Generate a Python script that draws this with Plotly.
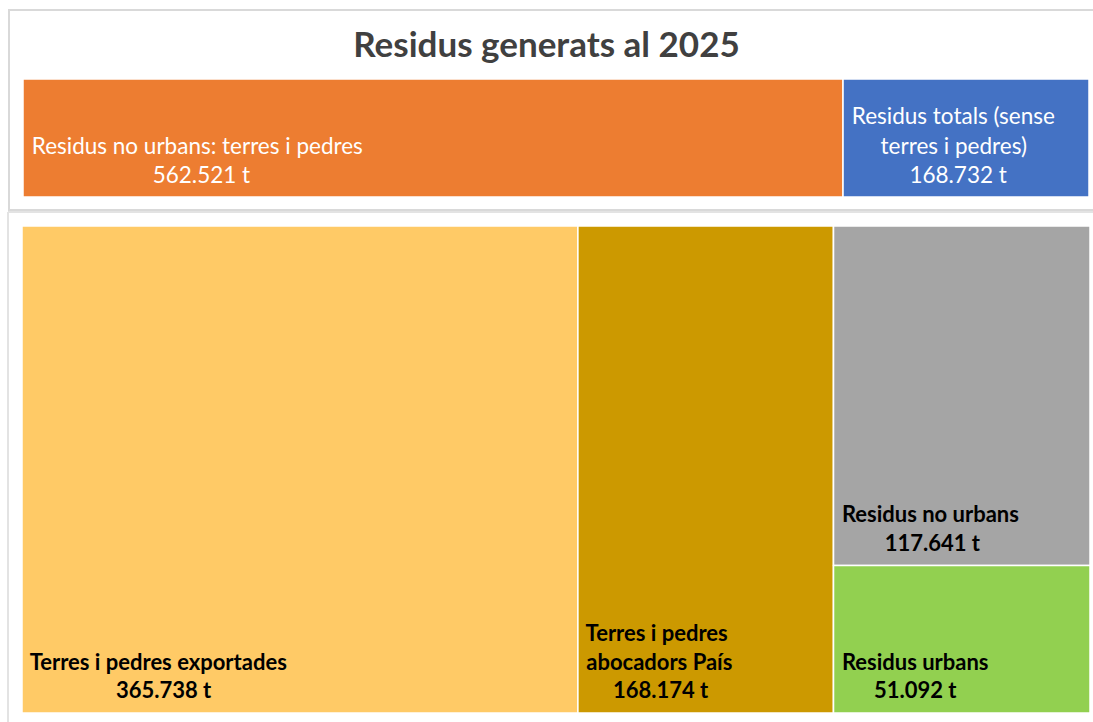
import plotly.graph_objects as go

W, H = 1093, 722

# ---- data ----
top_labels = ["Residus no urbans: terres i pedres", "Residus totals (sense terres i pedres)"]
top_values = [562521, 168732]
top_colors = ["#ED7D31", "#4472C4"]

bottom_ids = ["exp", "abo", "grp", "nou", "urb"]
bottom_labels = ["Terres i pedres exportades", "Terres i pedres abocadors País", "",
                 "Residus no urbans", "Residus urbans"]
bottom_parents = ["", "", "", "grp", "grp"]
bottom_values = [365738, 168174, 0, 117641, 51092]
bottom_colors = ["#FFCA66", "#CC9900", "rgba(0,0,0,0)", "#A5A5A5", "#92D050"]

title_text = "Residus generats al 2025"

NB = "\u00a0"


def fmt(v):
    return f"{v:,}".replace(",", ".") + " t"


def px_x(p):
    return p / W


def px_y(p):
    return 1 - p / H


def stack(lines, big, steps, lead=0, trail=0):
    """Multi-line label; small base font with blank spacer lines sets line pitch."""
    parts = [NB] * lead
    for j, ln in enumerate(lines):
        if j > 0:
            parts += [NB] * (steps - 1)
        parts.append(f"<span style='font-size:{big}px'>{ln}</span>")
    parts += [NB] * trail
    return "<br>".join(parts)


TOP_BIG, TOP_BASE = 22.5, 7.54
BOT_BIG, BOT_BASE = 22, 7.33

top_text = [
    stack([NB, NB + top_labels[0], NB * 22 + fmt(top_values[0])], TOP_BIG, 3, lead=3),
    stack([NB + "Residus totals (sense", NB * 6 + "terres i pedres)",
           NB * 11 + fmt(top_values[1])], TOP_BIG, 3, lead=3),
]
bottom_text = [
    stack([NB + bottom_labels[0], NB * 17 + fmt(bottom_values[0])], BOT_BIG, 3, trail=1),
    stack([NB + "Terres i pedres", NB + "abocadors País", NB * 6 + fmt(bottom_values[1])],
          BOT_BIG, 3, trail=1),
    "",
    stack([NB + bottom_labels[3], NB * 9 + fmt(bottom_values[3])], BOT_BIG, 3, trail=1),
    stack([NB + bottom_labels[4], NB * 7 + fmt(bottom_values[4])], BOT_BIG, 3, trail=1),
]

fig = go.Figure()

fig.add_trace(go.Treemap(
    ids=["t0", "t1"],
    labels=top_labels,
    parents=["", ""],
    values=top_values,
    text=top_text,
    texttemplate="%{text}",
    textposition="middle left",
    sort=False,
    tiling=dict(packing="slice-dice", pad=0),
    marker=dict(colors=top_colors, line=dict(color="white", width=1.5),
                pad=dict(t=0, l=0, r=0, b=0)),
    textfont=dict(family="Lato", size=TOP_BASE, color="white"),
    pathbar=dict(visible=False),
    hoverinfo="skip",
    domain=dict(x=[px_x(23), px_x(1089)], y=[px_y(197), px_y(79)]),
))

fig.add_trace(go.Treemap(
    ids=bottom_ids,
    labels=bottom_labels,
    parents=bottom_parents,
    values=bottom_values,
    branchvalues="remainder",
    text=bottom_text,
    texttemplate="%{text}",
    textposition="bottom left",
    sort=False,
    tiling=dict(packing="slice-dice", pad=0),
    marker=dict(colors=bottom_colors, line=dict(color="white", width=1.5),
                pad=dict(t=0, l=0, r=0, b=0)),
    textfont=dict(family="Lato", size=BOT_BASE, color="black", weight="bold"),
    pathbar=dict(visible=False),
    hoverinfo="skip",
    domain=dict(x=[px_x(22), px_x(1090)], y=[px_y(713), px_y(226)]),
))

shapes = [
    dict(type="rect", xref="paper", yref="paper",
         x0=px_x(9), x1=px_x(1100), y0=px_y(210), y1=px_y(10),
         line=dict(color="#D9D9D9", width=2), layer="below"),
    dict(type="line", xref="paper", yref="paper",
         x0=px_x(8), x1=px_x(1100), y0=px_y(212), y1=px_y(212),
         line=dict(color="#E3E3E3", width=2), layer="below"),
    dict(type="line", xref="paper", yref="paper",
         x0=px_x(8), x1=px_x(8), y0=px_y(212), y1=px_y(730),
         line=dict(color="#E3E3E3", width=2), layer="below"),
]

fig.update_layout(
    width=W, height=H,
    margin=dict(l=0, r=0, t=0, b=0),
    paper_bgcolor="white",
    plot_bgcolor="white",
    title=dict(text=f"<b>{title_text}</b>", x=0.5, xanchor="center",
               y=1 - 45 / H, yanchor="middle", yref="container",
               font=dict(family="Lato", size=35, color="#404040")),
    shapes=shapes,
    showlegend=False,
)

fig.write_html("out.html", config={"displayModeBar": False},
               post_script="document.body.style.margin='0';")
